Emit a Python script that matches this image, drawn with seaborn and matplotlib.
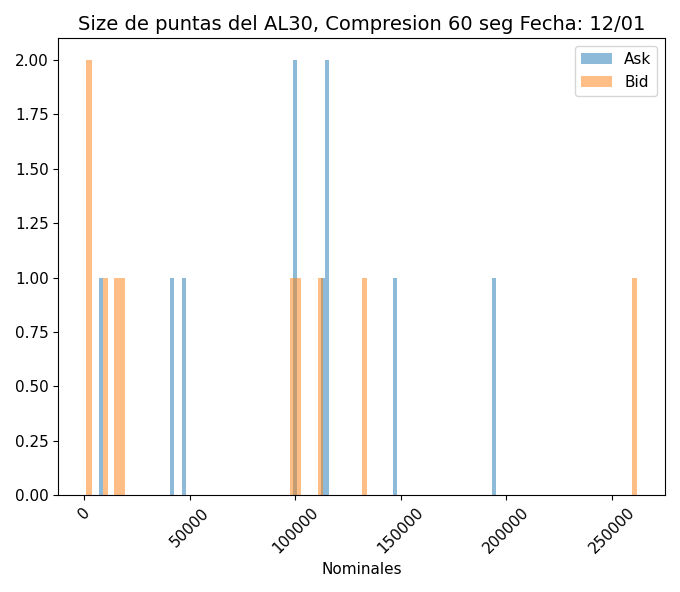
import matplotlib
matplotlib.use("Agg")
import matplotlib.pyplot as plt
import seaborn as sns
import pandas as pd

ask = [7000, 42000, 47000, 100000, 100200, 113500, 115500, 115700, 147000, 195000]
bid = [1000, 1500, 10000, 15000, 17500, 99500, 102000, 112000, 133000, 262000]

fig, ax = plt.subplots(figsize=(6.8, 5.92), dpi=100)
sns.histplot(x=ask, bins=100, color="C0", alpha=0.5, edgecolor=None, linewidth=0, label="Ask", ax=ax)
sns.histplot(x=bid, bins=100, color="C1", alpha=0.5, edgecolor=None, linewidth=0, label="Bid", ax=ax)
ax.set_title("Size de puntas del AL30, Compresion 60 seg Fecha: 12/01", fontsize=14)
ax.set_xlabel("Nominales", fontsize=11)
ax.set_ylabel("")
ax.yaxis.set_major_formatter(matplotlib.ticker.FormatStrFormatter("%.2f"))
ax.set_yticks([0, 0.25, 0.5, 0.75, 1, 1.25, 1.5, 1.75, 2])
ax.tick_params(labelsize=11)
plt.xticks(rotation=45)
ax.legend(loc="upper right", fontsize=11)
plt.tight_layout()
plt.savefig("out.png")
plt.close()
